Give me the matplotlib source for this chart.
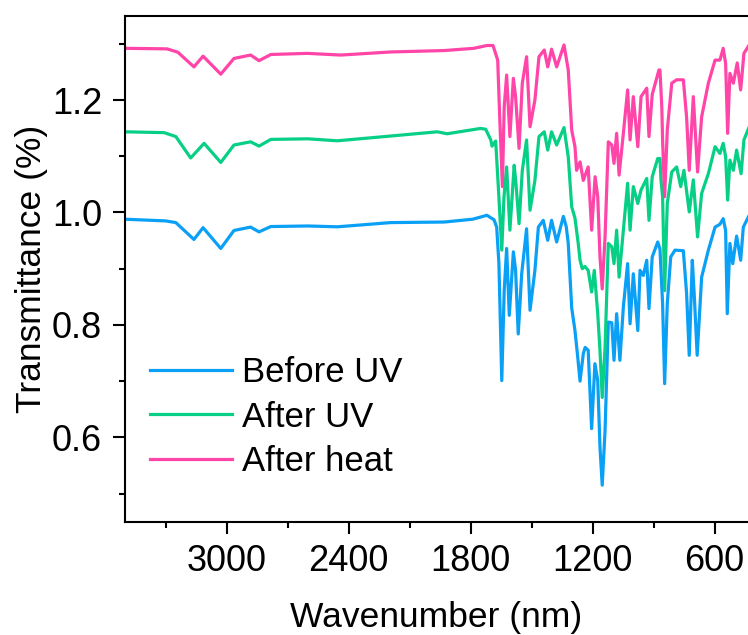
import matplotlib
matplotlib.use('Agg')
import matplotlib.pyplot as plt
from matplotlib.ticker import MultipleLocator

# FTIR spectra (wavenumber, transmittance)
before_wn = [3500, 3300, 3250, 3161, 3116, 3029, 2964, 2882, 2841, 2783, 2600,
             2456, 2193, 1931, 1790, 1720, 1685, 1672, 1661, 1647, 1635, 1623,
             1610, 1590, 1579, 1566, 1549, 1525, 1508, 1484, 1467, 1443, 1421,
             1402, 1377, 1344, 1330, 1320, 1303, 1287, 1274, 1262, 1246, 1237,
             1222, 1205, 1189, 1175, 1164, 1153, 1139, 1123, 1106, 1095, 1082,
             1066, 1049, 1028, 1016, 1000, 978, 967, 951, 934, 923, 907, 880,
             869, 856, 846, 833, 816, 795, 754, 738, 725, 710, 700, 686, 664,
             631, 598, 574, 558, 546, 538, 525, 511, 492, 472, 459, 430]
before_t = [0.988, 0.985, 0.982, 0.952, 0.973, 0.936, 0.968, 0.974, 0.9655,
            0.975, 0.976, 0.9745, 0.982, 0.983, 0.988, 0.995, 0.987, 0.974,
            0.909, 0.701, 0.861, 0.936, 0.817, 0.930, 0.897, 0.784, 0.891,
            0.971, 0.826, 0.897, 0.974, 0.986, 0.9505, 0.986, 0.9475, 0.993,
            0.975, 0.945, 0.830, 0.790, 0.745, 0.700, 0.749, 0.760, 0.755,
            0.6155, 0.731, 0.701, 0.583, 0.515, 0.612, 0.805, 0.804, 0.737,
            0.820, 0.737, 0.832, 0.909, 0.802, 0.891, 0.790, 0.897, 0.888,
            0.915, 0.829, 0.921, 0.9475, 0.935, 0.838, 0.6955, 0.838, 0.921,
            0.933, 0.932, 0.856, 0.746, 0.915, 0.851, 0.746, 0.885, 0.933,
            0.974, 0.979, 0.989, 0.968, 0.820, 0.945, 0.909, 0.958, 0.915,
            0.974, 0.995]

after_uv_wn = [3500, 3308, 3250, 3177, 3111, 3029, 2964, 2882, 2841, 2783,
               2600, 2456, 2193, 1964, 1916, 1751, 1726, 1701, 1695, 1677,
               1664, 1647, 1636, 1623, 1607, 1586, 1577, 1562, 1546, 1525,
               1508, 1484, 1464, 1438, 1421, 1402, 1377, 1341, 1320, 1303,
               1287, 1271, 1262, 1251, 1238, 1222, 1205, 1192, 1175, 1164,
               1153, 1139, 1123, 1106, 1095, 1082, 1070, 1049, 1028, 1016,
               1000, 978, 962, 934, 923, 907, 880, 869, 864, 856, 846, 833,
               811, 787, 767, 751, 725, 705, 684, 664, 631, 598, 574, 558,
               546, 536, 525, 508, 492, 470, 456, 430]
after_uv_t = [1.1435, 1.142, 1.135, 1.097, 1.123, 1.089, 1.120, 1.1257, 1.118,
              1.130, 1.131, 1.1275, 1.136, 1.1435, 1.140, 1.1495, 1.148,
              1.129, 1.118, 1.127, 1.046, 0.933, 1.028, 1.081, 0.9685, 1.084,
              1.051, 0.980, 1.075, 1.129, 1.004, 1.057, 1.135, 1.1435, 1.111,
              1.1435, 1.120, 1.151, 1.099, 1.010, 0.990, 0.945, 0.915, 0.900,
              0.904, 0.897, 0.8585, 0.897, 0.820, 0.755, 0.671, 0.759, 0.945,
              0.939, 0.909, 0.9685, 0.885, 0.9685, 1.052, 0.9685, 1.046,
              1.016, 1.040, 1.0605, 0.986, 1.0635, 1.096, 1.096, 1.058, 1.028,
              0.861, 1.016, 1.072, 1.081, 1.046, 1.075, 1.001, 1.058, 0.9565,
              1.034, 1.069, 1.117, 1.105, 1.123, 1.099, 1.022, 1.093, 1.075,
              1.111, 1.069, 1.129, 1.1525]

after_heat_wn = [3500, 3293, 3240, 3161, 3116, 3029, 2964, 2882, 2841, 2783,
                 2603, 2439, 2193, 1931, 1784, 1720, 1690, 1667, 1656, 1644,
                 1635, 1623, 1607, 1590, 1579, 1562, 1546, 1525, 1508, 1484,
                 1464, 1438, 1421, 1402, 1377, 1341, 1320, 1303, 1287, 1279,
                 1262, 1246, 1222, 1205, 1188, 1175, 1164, 1153, 1139, 1123,
                 1106, 1095, 1082, 1070, 1049, 1028, 1016, 1000, 978, 962, 934,
                 923, 907, 874, 869, 860, 856, 846, 833, 811, 787, 754, 738,
                 725, 705, 684, 664, 631, 598, 574, 558, 546, 536, 525, 508,
                 489, 472, 456, 430]
after_heat_t = [1.292, 1.291, 1.285, 1.259, 1.278, 1.246, 1.274, 1.280, 1.270,
                1.281, 1.283, 1.280, 1.2855, 1.288, 1.292, 1.297, 1.297, 1.271,
                1.1585, 1.046, 1.188, 1.2445, 1.135, 1.2386, 1.206, 1.114,
                1.230, 1.277, 1.1525, 1.200, 1.277, 1.289, 1.259, 1.2905,
                1.259, 1.298, 1.2535, 1.1465, 1.117, 1.075, 1.090, 1.057,
                1.081, 0.9685, 1.0635, 1.028, 0.921, 0.864, 0.9565, 1.1257,
                1.120, 1.0873, 1.1407, 1.0665, 1.1407, 1.218, 1.129, 1.206,
                1.117, 1.206, 1.221, 1.135, 1.210, 1.2535, 1.2535, 1.188,
                1.129, 1.028, 1.1465, 1.230, 1.236, 1.236, 1.170, 1.075, 1.206,
                1.072, 1.170, 1.230, 1.271, 1.271, 1.292, 1.265, 1.1407,
                1.2475, 1.230, 1.266, 1.218, 1.283, 1.298]

labels = ['Before UV', 'After UV', 'After heat']
colors = ['#0AA0F5', '#08CF86', '#FF45A8']

plt.rcParams['font.family'] = ['Liberation Sans', 'DejaVu Sans']

fig = plt.figure(figsize=(7.48, 6.35), dpi=100)
ax = fig.add_axes([125 / 748, 1 - 521.7 / 635, 623 / 748, 506 / 635])

series = [(before_wn, before_t), (after_uv_wn, after_uv_t), (after_heat_wn, after_heat_t)]
for (wn, t), label, color in zip(series, labels, colors):
    ax.plot(wn, t, color=color, lw=2.3, label=label, solid_joinstyle='round')

ax.set_xlim(3500, 436)
ax.set_ylim(0.45, 1.35)
ax.set_xticks([3000, 2400, 1800, 1200, 600])
ax.xaxis.set_minor_locator(MultipleLocator(300))
ax.yaxis.set_major_locator(MultipleLocator(0.2))
ax.yaxis.set_minor_locator(MultipleLocator(0.1))

ax.tick_params(which='major', direction='out', length=8.4, width=1.5, labelsize=26, pad=8)
ax.tick_params(which='minor', direction='out', length=4, width=1.5)
for side in ['left', 'bottom', 'top']:
    ax.spines[side].set_linewidth(1.5)
ax.spines['right'].set_visible(False)

ax.set_xlabel('Wavenumber (nm)', fontsize=25.5, labelpad=15.5)
ax.set_ylabel('Transmittance (%)', fontsize=25.5, labelpad=2.7)

ax.legend(loc='upper left', bbox_to_anchor=(150 / 748, 1 - 356.5 / 635),
          bbox_transform=fig.transFigure, frameon=False, fontsize=25,
          handlelength=2.35, handletextpad=0.3, labelspacing=0.32,
          borderpad=0, borderaxespad=0)

plt.savefig('out.png', dpi=100)
